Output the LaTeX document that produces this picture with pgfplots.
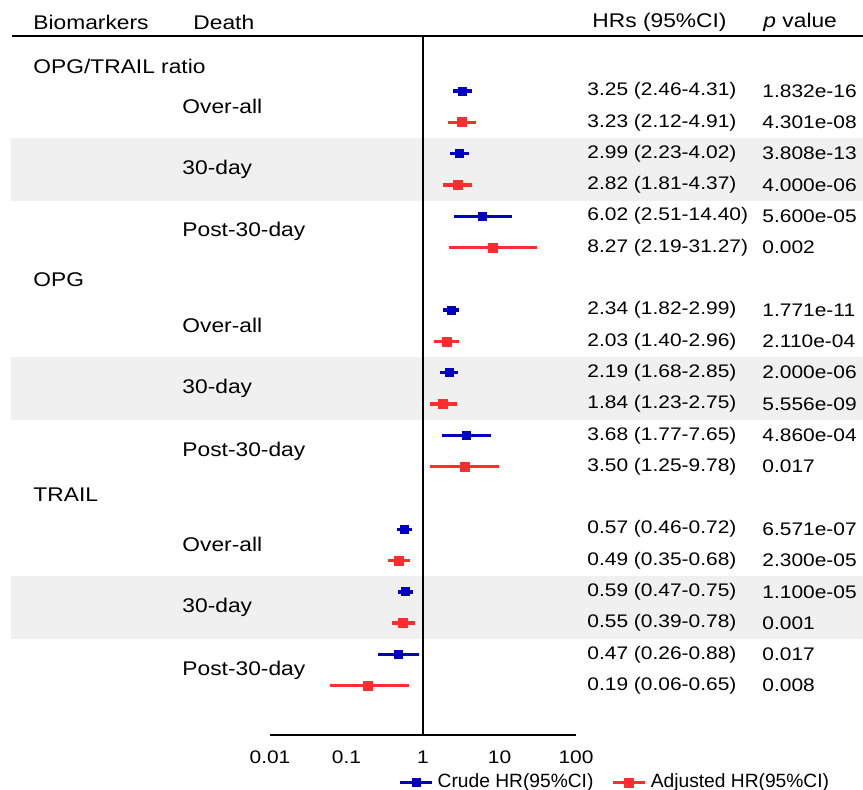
\documentclass[border=0pt]{standalone}
\usepackage{pgfplots}
\pgfplotsset{compat=1.18}
\usepackage{pgfplotstable}
\usepackage{fontspec}
\setmainfont{Liberation Sans}
\definecolor{cblue}{RGB}{0,0,190}
\definecolor{cred}{RGB}{255,45,45}
\definecolor{band}{RGB}{240,240,240}

\pgfplotstableread{
y hr lo hi
-1 3.25 2.46 4.31
-3 2.99 2.23 4.02
-5 6.02 2.51 14.40
-8 2.34 1.82 2.99
-10 2.19 1.68 2.85
-12 3.68 1.77 7.65
-15 0.57 0.46 0.72
-17 0.59 0.47 0.75
-19 0.47 0.26 0.88
}\crude
\pgfplotstableread{
y hr lo hi
-2 3.23 2.12 4.91
-4 2.82 1.81 4.37
-6 8.27 2.19 31.27
-9 2.03 1.40 2.96
-11 1.84 1.23 2.75
-13 3.50 1.25 9.78
-16 0.49 0.35 0.68
-18 0.55 0.39 0.78
-20 0.19 0.06 0.65
}\adjusted

\newcommand{\fs}{\fontsize{9.1}{11}\selectfont}
\newcommand{\fl}{\fontsize{9.9}{12}\selectfont}
\newcommand{\fg}{\fontsize{9.6}{11}\selectfont}

\begin{document}
\begin{tikzpicture}
\path[use as bounding box] (0pt,0pt) rectangle (431.5pt,-394.5pt);
\begin{scope}[x=0.5pt,y=-0.5pt,
  txt/.style={font=\fs, xscale=1.15, inner sep=0pt, anchor=west},
  lab/.style={font=\fl, xscale=1.15, inner sep=0pt, anchor=west}]
% shaded bands
\fill[band] (11,137.9) rectangle (863,200.5);
\fill[band] (11,357.0) rectangle (863,419.6);
\fill[band] (11,576.1) rectangle (863,638.8);
% top rule
\draw[line width=1pt] (12,36) -- (863,36);
% header
\node[lab] at (33,22) {Biomarkers};
\node[lab] at (193,22) {Death};
\node[lab] at (592,22) {HRs (95\%CI)};
\node[lab] at (763,22) {\textit{p} value};
% group labels
\node[lab] at (33,66) {OPG/TRAIL ratio};
\node[lab] at (33,280) {OPG};
\node[lab] at (33,495) {TRAIL};
\foreach \g in {0,7,14}{
  \node[lab] at (182,{59.7+31.3*(\g+1.5)}) {Over-all};
  \node[lab] at (182,{59.7+31.3*(\g+3.5)}) {30-day};
  \node[lab] at (182,{59.7+31.3*(\g+5.5)}) {Post-30-day};
}
% HR and p value text
\foreach \r/\h/\p in {
 1/3.25 (2.46-4.31)/1.832e-16,
 2/3.23 (2.12-4.91)/4.301e-08,
 3/2.99 (2.23-4.02)/3.808e-13,
 4/2.82 (1.81-4.37)/4.000e-06,
 5/6.02 (2.51-14.40)/5.600e-05,
 6/8.27 (2.19-31.27)/0.002,
 8/2.34 (1.82-2.99)/1.771e-11,
 9/2.03 (1.40-2.96)/2.110e-04,
 10/2.19 (1.68-2.85)/2.000e-06,
 11/1.84 (1.23-2.75)/5.556e-09,
 12/3.68 (1.77-7.65)/4.860e-04,
 13/3.50 (1.25-9.78)/0.017,
 15/0.57 (0.46-0.72)/6.571e-07,
 16/0.49 (0.35-0.68)/2.300e-05,
 17/0.59 (0.47-0.75)/1.100e-05,
 18/0.55 (0.39-0.78)/0.001,
 19/0.47 (0.26-0.88)/0.017,
 20/0.19 (0.06-0.65)/0.008}{
  \node[txt] at (587,{59.7+31.3*\r}) {\h};
  \node[txt] at (762,{59.7+31.3*\r}) {\p};
}
\end{scope}
\begin{axis}[at={(135pt,-367.5pt)}, anchor=south west, scale only axis,
  width=153pt, height=349pt,
  xmode=log, xmin=0.01, xmax=100,
  ymin=-21.575, ymax=0.725,
  axis x line=bottom, axis y line=none,
  x axis line style={line width=1pt,-},
  xtick={0.01,0.1,1,10,100},
  xticklabels={0.01,0.1,1,10,100},
  xminorticks=false,
  major tick length=0pt, minor tick length=0pt,
  xticklabel style={font=\fs, xscale=1.15, yshift=-4.5pt},
  clip=false,
  legend style={at={(axis description cs:0.418,-0.068)}, anchor=west,
    draw=none, fill=none, inner sep=0pt,
    font=\fg, legend columns=2,
    /tikz/every even column/.append style={column sep=7pt}},
  ]
\draw[line width=1pt] (axis cs:1,0.725) -- (axis cs:1,-21.575);
\addlegendimage{legend image code/.code={
  \draw[cblue,line width=1.7pt] (0pt,0pt)--(16pt,0pt);
  \fill[cblue] (6pt,-2pt) rectangle (10pt,2pt);}}
\addlegendentry{Crude HR(95\%CI)}
\addlegendimage{legend image code/.code={
  \draw[cred,line width=1.7pt] (0pt,0pt)--(16pt,0pt);
  \fill[cred] (5.75pt,-2.25pt) rectangle (10.25pt,2.25pt);}}
\addlegendentry{Adjusted HR(95\%CI)}
\addplot[forget plot, only marks, mark=square*, mark size=2pt, color=cblue,
  error bars/.cd, x dir=both, x explicit, error mark=none,
  error bar style={line width=1.7pt, color=cblue}]
  table[x=hr, y=y, x error plus expr=\thisrow{hi}-\thisrow{hr},
        x error minus expr=\thisrow{hr}-\thisrow{lo}] {\crude};
\addplot[forget plot, only marks, mark=square*, mark size=2.25pt, color=cred,
  error bars/.cd, x dir=both, x explicit, error mark=none,
  error bar style={line width=1.7pt, color=cred}]
  table[x=hr, y=y, x error plus expr=\thisrow{hi}-\thisrow{hr},
        x error minus expr=\thisrow{hr}-\thisrow{lo}] {\adjusted};
\end{axis}
\end{tikzpicture}
\end{document}
